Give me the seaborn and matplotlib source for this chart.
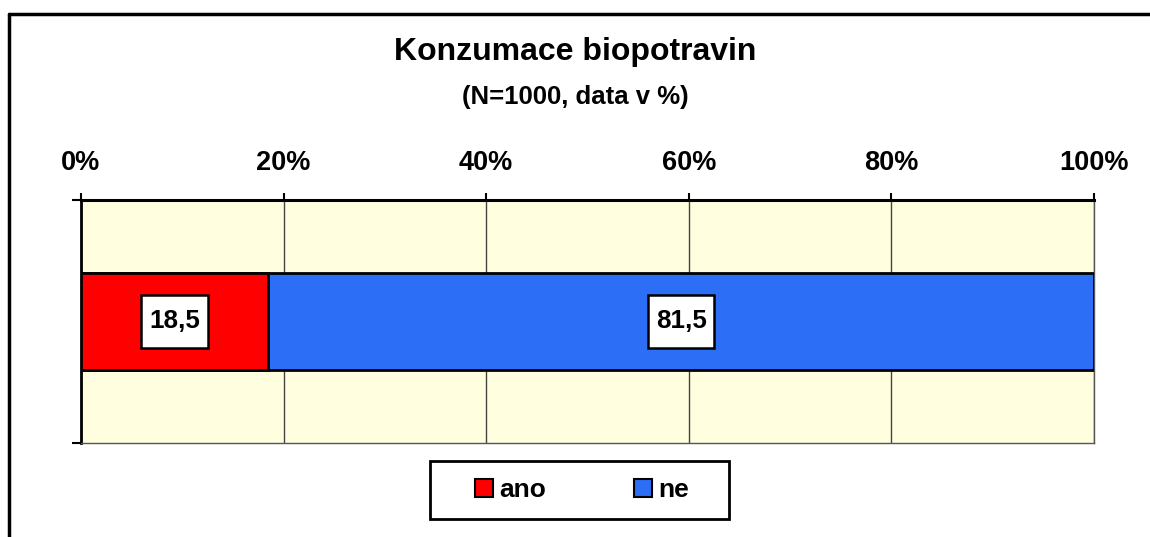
import matplotlib.pyplot as plt
import seaborn as sns
import numpy as np
import pandas as pd
from matplotlib.patches import Patch, Rectangle
from matplotlib.lines import Line2D

# chart data
answers = ["ano", "ne"]
shares = [18.5, 81.5]
colors = ["#FF0000", "#2C6EF6"]
row_name = ["Konzumace biopotravin"]
xticks = [0, 20, 40, 60, 80, 100]
xtick_labels = ["0%", "20%", "40%", "60%", "80%", "100%"]

sns.set_style("white")
plt.rcParams["font.family"] = ["Liberation Sans", "DejaVu Sans"]
plt.rcParams["font.weight"] = "bold"
plt.rcParams["text.color"] = "black"
plt.rcParams["xtick.color"] = "black"
plt.rcParams["ytick.color"] = "black"

fig = plt.figure(figsize=(11.5, 5.37), dpi=100)
ax = fig.add_axes([81 / 1150, 1 - 443 / 537, (1094 - 81) / 1150, 243 / 537])
ax.set_facecolor("#FFFFE0")

# stacked bar: draw cumulative totals from the largest down
cum = np.cumsum(shares)
for i in reversed(range(len(answers))):
    df = pd.DataFrame({"share": [cum[i]], "row": row_name})
    sns.barplot(data=df, x="share", y="row", orient="y", color=colors[i],
                saturation=1, width=0.4, edgecolor="black", linewidth=2,
                ax=ax, zorder=3)

# value labels in white boxes
starts = cum - np.array(shares)
for s, v in zip(starts, shares):
    ax.text(s + v / 2, 0, f"{v:.1f}".replace(".", ","), ha="center", va="center",
            fontsize=18.7, fontweight="bold", color="black", zorder=5,
            bbox=dict(boxstyle="square,pad=0.3", mutation_aspect=1.8,
                      fc="white", ec="black", lw=1.8))

ax.set_xlim(0, 100)
ax.set_ylim(0.5, -0.5)
ax.set_xticks(xticks)
ax.set_xticklabels(xtick_labels, fontsize=19.5, fontweight="bold")
ax.xaxis.tick_top()
ax.tick_params(axis="x", top=True, bottom=False, direction="out", length=5,
               width=1.5, pad=12, color="black", labelcolor="black")
ax.set_yticks([-0.5, 0.5])
ax.set_yticklabels(["", ""])
ax.tick_params(axis="y", left=True, direction="out", length=6.5, width=1.5, color="black")
ax.set_xlabel("")
ax.set_ylabel("")
ax.xaxis.grid(True, color="#444444", lw=1, zorder=1)
ax.set_axisbelow(True)

ax.spines["top"].set_color("black")
ax.spines["top"].set_linewidth(2.2)
ax.spines["left"].set_color("black")
ax.spines["left"].set_linewidth(2)
ax.spines["right"].set_color("#555555")
ax.spines["right"].set_linewidth(1)
ax.spines["bottom"].set_color("#555555")
ax.spines["bottom"].set_linewidth(1)

# titles
fig.text(0.5, 1 - 52 / 537, "Konzumace biopotravin", ha="center", va="center",
         fontsize=23, fontweight="bold")
fig.text(0.5, 1 - 97 / 537, "(N=1000, data v %)", ha="center", va="center",
         fontsize=18.5, fontweight="bold")

# legend with its own frame
handles = [Patch(facecolor=c, edgecolor="black", linewidth=1.5, label=a)
           for a, c in zip(answers, colors)]
fig.add_artist(Rectangle((430 / 1150, 1 - 519 / 537), 299 / 1150, 58 / 537,
                         transform=fig.transFigure, fill=False, ec="black", lw=2))
fig.legend(handles=handles, loc="center", bbox_to_anchor=(582 / 1150, 1 - 490 / 537),
           ncol=2, frameon=False, prop={"size": 19, "weight": "bold"},
           handlelength=0.68, handleheight=0.68, handletextpad=0.25, columnspacing=3.3)

# outer border (cropped screenshot: only left and top edges visible)
fig.add_artist(Line2D([9 / 1150, 9 / 1150], [0, 1 - 14 / 537], transform=fig.transFigure,
                      color="black", lw=2.5))
fig.add_artist(Line2D([9 / 1150, 1], [1 - 14 / 537, 1 - 14 / 537], transform=fig.transFigure,
                      color="black", lw=2.5))

fig.savefig("out.png", dpi=100)
